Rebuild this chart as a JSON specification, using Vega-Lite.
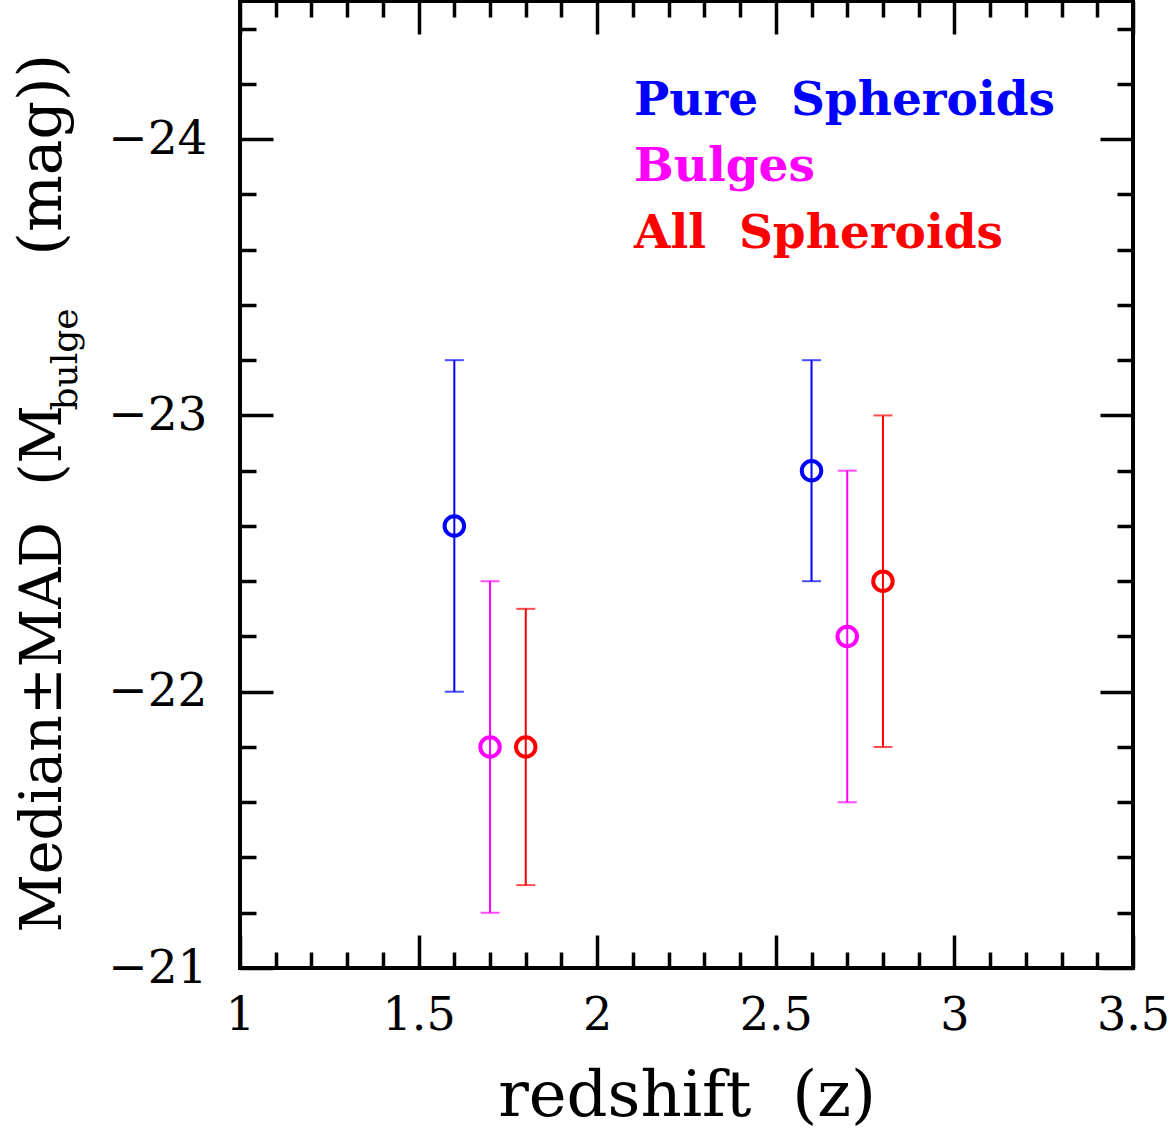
{
  "$schema": "https://vega.github.io/schema/vega-lite/v6.json",
  "width": 893,
  "height": 967,
  "autosize": {"type": "none"},
  "padding": {"left": 240, "top": 1, "right": 38, "bottom": 168},
  "background": "white",
  "config": {
    "view": {"stroke": "black", "strokeWidth": 4},
    "axis": {
      "grid": false,
      "domain": false,
      "labelFont": "DejaVu Serif",
      "titleFont": "DejaVu Serif",
      "titleFontWeight": "normal",
      "titleColor": "black",
      "labelColor": "black",
      "tickColor": "black",
      "tickWidth": 3.5
    }
  },
  "data": {
    "values": [
      {"sample": "Pure Spheroids", "z": 1.6, "median": -22.6, "m_minus_mad": -23.2, "m_plus_mad": -22.0},
      {"sample": "Pure Spheroids", "z": 2.6, "median": -22.8, "m_minus_mad": -23.2, "m_plus_mad": -22.4},
      {"sample": "Bulges", "z": 1.7, "median": -21.8, "m_minus_mad": -22.4, "m_plus_mad": -21.2},
      {"sample": "Bulges", "z": 2.7, "median": -22.2, "m_minus_mad": -22.8, "m_plus_mad": -21.6},
      {"sample": "All Spheroids", "z": 1.8, "median": -21.8, "m_minus_mad": -22.3, "m_plus_mad": -21.3},
      {"sample": "All Spheroids", "z": 2.8, "median": -22.4, "m_minus_mad": -23.0, "m_plus_mad": -21.8}
    ]
  },
  "encoding": {
    "color": {
      "field": "sample",
      "type": "nominal",
      "scale": {
        "domain": ["Pure Spheroids", "Bulges", "All Spheroids"],
        "range": ["#0000ff", "#ff00ff", "#ff0000"]
      },
      "legend": {
        "orient": "none",
        "legendX": 347,
        "legendY": 76,
        "title": null,
        "padding": 0,
        "labelFont": "DejaVu Serif",
        "labelFontWeight": "bold",
        "labelFontSize": 47,
        "labelColor": {"expr": "scale('color', datum.value)"},
        "labelOffset": 0,
        "labelLimit": 0,
        "labelExpr": "replace(datum.label, ' ', '\u00a0\u00a0')",
        "symbolSize": 0,
        "symbolStrokeWidth": 0,
        "symbolOpacity": 0,
        "rowPadding": 18.5
      }
    }
  },
  "resolve": {"axis": {"x": "independent", "y": "independent"}},
  "layer": [
    {
      "mark": {"type": "rule", "strokeWidth": 2},
      "encoding": {
        "x": {
          "field": "z",
          "type": "quantitative",
          "scale": {"domain": [1, 3.5], "nice": false, "zero": false},
          "axis": {
            "orient": "bottom",
            "values": [1, 1.5, 2, 2.5, 3, 3.5],
            "format": "~g",
            "ticks": false,
            "labelFontSize": 46,
            "labelPadding": 25,
            "labelFlush": false,
            "labelOverlap": false,
            "title": "redshift\u00a0\u00a0(z)",
            "titleFontSize": 64,
            "titleAlign": "center",
            "titleBaseline": "alphabetic",
            "titleX": 446.5,
            "titleY": 147
          }
        },
        "y": {
          "field": "m_minus_mad",
          "type": "quantitative",
          "scale": {"domain": [-24.5, -21], "reverse": true, "nice": false, "zero": false},
          "axis": {
            "orient": "left",
            "values": [-24, -23, -22, -21],
            "format": "~g",
            "ticks": false,
            "labelFontSize": 47,
            "labelPadding": 33,
            "labelOverlap": false,
            "title": "Median±MAD\u00a0\u00a0(M",
            "titleFontSize": 57,
            "titleAngle": 270,
            "titleAlign": "left",
            "titleBaseline": "alphabetic",
            "titleX": -180,
            "titleY": 931
          }
        },
        "y2": {"field": "m_plus_mad"}
      }
    },
    {
      "mark": {"type": "tick", "orient": "horizontal", "size": 19, "thickness": 2},
      "encoding": {
        "x": {
          "field": "z",
          "type": "quantitative",
          "axis": {
            "orient": "bottom",
            "values": [1, 1.1, 1.2, 1.3, 1.4, 1.5, 1.6, 1.7, 1.8, 1.9, 2, 2.1, 2.2, 2.3, 2.4, 2.5, 2.6, 2.7, 2.8, 2.9, 3, 3.1, 3.2, 3.3, 3.4, 3.5],
            "labels": false,
            "title": null,
            "tickSize": {"expr": "abs(datum.value*2-round(datum.value*2)) < 0.01 ? -33 : -16"}
          }
        },
        "y": {
          "field": "m_minus_mad",
          "type": "quantitative",
          "axis": {
            "orient": "left",
            "values": [-24.4, -24.2, -24, -23.8, -23.6, -23.4, -23.2, -23, -22.8, -22.6, -22.4, -22.2, -22, -21.8, -21.6, -21.4, -21.2, -21],
            "labels": false,
            "tickSize": {"expr": "abs(datum.value-round(datum.value)) < 0.01 ? -33 : -16"},
            "title": "bulge",
            "titleFontSize": 36,
            "titleAngle": 270,
            "titleAlign": "left",
            "titleBaseline": "alphabetic",
            "titleX": -164,
            "titleY": 409
          }
        }
      }
    },
    {
      "mark": {"type": "tick", "orient": "horizontal", "size": 19, "thickness": 2},
      "encoding": {
        "x": {
          "field": "z",
          "type": "quantitative",
          "axis": {
            "orient": "top",
            "values": [1, 1.1, 1.2, 1.3, 1.4, 1.5, 1.6, 1.7, 1.8, 1.9, 2, 2.1, 2.2, 2.3, 2.4, 2.5, 2.6, 2.7, 2.8, 2.9, 3, 3.1, 3.2, 3.3, 3.4, 3.5],
            "labels": false,
            "title": null,
            "tickSize": {"expr": "abs(datum.value*2-round(datum.value*2)) < 0.01 ? -33 : -16"}
          }
        },
        "y": {
          "field": "m_plus_mad",
          "type": "quantitative",
          "axis": {
            "orient": "right",
            "values": [-24.4, -24.2, -24, -23.8, -23.6, -23.4, -23.2, -23, -22.8, -22.6, -22.4, -22.2, -22, -21.8, -21.6, -21.4, -21.2, -21],
            "labels": false,
            "tickSize": {"expr": "abs(datum.value-round(datum.value)) < 0.01 ? -33 : -16"},
            "title": "(mag))",
            "titleFontSize": 60,
            "titleAngle": 270,
            "titleAlign": "left",
            "titleBaseline": "alphabetic",
            "titleX": -1073,
            "titleY": 254
          }
        }
      }
    },
    {
      "mark": {"type": "point", "shape": "circle", "filled": false, "size": 380, "strokeWidth": 4, "opacity": 1},
      "encoding": {
        "x": {"field": "z", "type": "quantitative", "axis": null},
        "y": {"field": "median", "type": "quantitative", "axis": null}
      }
    }
  ]
}
